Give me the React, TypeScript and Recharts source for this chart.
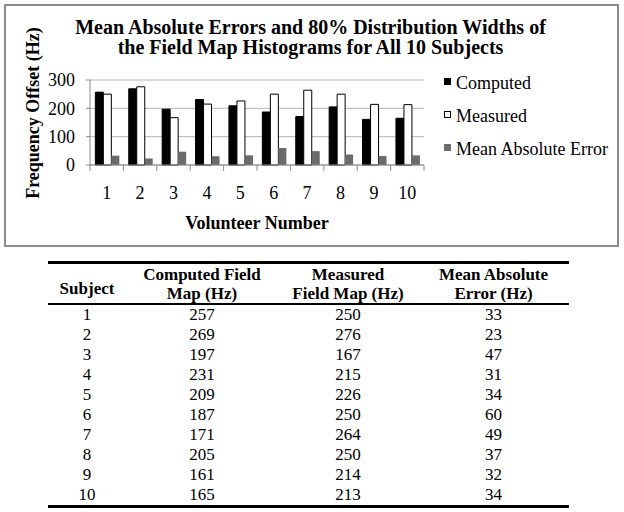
import React from 'react';
import { Bar, BarChart, CartesianGrid, Label, Legend, XAxis, YAxis } from 'recharts';

const subjects = ['1', '2', '3', '4', '5', '6', '7', '8', '9', '10'];
const computed = [257, 269, 197, 231, 209, 187, 171, 205, 161, 165];
const measured = [250, 276, 167, 215, 226, 250, 264, 250, 214, 213];
const meanAbsError = [33, 23, 47, 31, 34, 60, 49, 37, 32, 34];
const yTicks = [0, 100, 200, 300];

const SERIF = '"Liberation Serif", "Times New Roman", serif';
const AXIS = '#8a8a8a';
const GRID = '#b4b4b4';
const X_TICK_GAP = 21;

const SERIES = [
  { key: 'computed', label: 'Computed', fill: '#000000', stroke: '#000000' },
  { key: 'measured', label: 'Measured', fill: '#ffffff', stroke: '#000000' },
  { key: 'mae', label: 'Mean Absolute Error', fill: '#6b6b6b', stroke: 'none' },
];

const chartData = subjects.map((s, i) => ({
  subject: s,
  computed: computed[i],
  measured: measured[i],
  mae: meanAbsError[i],
}));

// Excel-style ticks: sit on category boundaries, not centres
const XTick = (props: any) => {
  const { x, y, payload } = props;
  const half = payload?.offset ?? 0;
  const axisY = y - X_TICK_GAP;
  const isLast = payload?.value === subjects[subjects.length - 1];
  return (
    <g>
      <line x1={x - half} x2={x - half} y1={axisY} y2={axisY + 6} stroke={AXIS} />
      {isLast && <line x1={x + half} x2={x + half} y1={axisY} y2={axisY + 6} stroke={AXIS} />}
      <text x={x} y={y} dy={13} textAnchor="middle" fontFamily={SERIF} fontSize={18} fill="#000">
        {payload.value}
      </text>
    </g>
  );
};

const YTitle = ({ viewBox }: any) => {
  const cx = viewBox.x + 3;
  const cy = viewBox.y + viewBox.height / 2 - 9.5;
  return (
    <text
      x={cx}
      y={cy}
      transform={`rotate(-90 ${cx} ${cy})`}
      textAnchor="middle"
      dominantBaseline="central"
      fontFamily={SERIF}
      fontSize={18}
      fontWeight="bold"
      fill="#000"
    >
      Frequency Offset (Hz)
    </text>
  );
};

const XTitle = ({ viewBox }: any) => (
  <text
    x={viewBox.x + viewBox.width / 2}
    y={viewBox.y + 64}
    textAnchor="middle"
    fontFamily={SERIF}
    fontSize={18}
    fontWeight="bold"
    fill="#000"
  >
    Volunteer Number
  </text>
);

const renderLegend = () => (
  <div style={{ fontFamily: SERIF, fontSize: 18, color: '#000' }}>
    {SERIES.map((s) => (
      <div key={s.key} style={{ height: 33, display: 'flex', alignItems: 'center' }}>
        <span
          style={{
            width: 7,
            height: 7,
            background: s.fill,
            border: s.key === 'measured' ? '1px solid #000' : 'none',
            boxSizing: 'border-box',
            marginRight: 5,
            marginTop: -4,
          }}
        />
        <span>{s.label}</span>
      </div>
    ))}
  </div>
);

const COLS = [
  { head: ['Subject'], width: 78 },
  { head: ['Computed Field', 'Map (Hz)'], width: 152 },
  { head: ['Measured', 'Field Map (Hz)'], width: 140 },
  { head: ['Mean Absolute', 'Error (Hz)'], width: 151 },
];

export default function App() {
  const rows = subjects.map((s, i) => [s, computed[i], measured[i], meanAbsError[i]]);
  return (
    <div style={{ position: 'absolute', left: 0, top: 0, width: 624, height: 512, background: '#fff' }}>
      <div
        style={{
          position: 'absolute',
          left: 4,
          top: 4,
          width: 615,
          height: 243,
          border: '2px solid #8c8c8c',
          boxSizing: 'border-box',
        }}
      />
      <div
        style={{
          position: 'absolute',
          left: 0,
          top: 16.5,
          width: 621,
          textAlign: 'center',
          fontFamily: SERIF,
          fontSize: 20,
          fontWeight: 'bold',
          lineHeight: '20px',
          color: '#000',
        }}
      >
        Mean Absolute Errors and 80% Distribution Widths of
        <br />
        the Field Map Histograms for All 10 Subjects
      </div>
      <div style={{ position: 'absolute', left: 0, top: 0 }}>
        <BarChart
          width={624}
          height={250}
          data={chartData}
          margin={{ top: 80, right: 20, bottom: 15, left: 30 }}
          barCategoryGap="16%"
          barGap={0}
        >
          <CartesianGrid vertical={false} stroke={GRID} />
          <XAxis
            dataKey="subject"
            interval={0}
            height={70}
            tickSize={0}
            tickLine={false}
            tickMargin={X_TICK_GAP}
            tick={<XTick />}
            axisLine={{ stroke: AXIS }}
          >
            <Label content={<XTitle />} />
          </XAxis>
          <YAxis
            width={60}
            domain={[0, 300]}
            ticks={yTicks}
            tickSize={4}
            tickMargin={11}
            tickLine={{ stroke: AXIS }}
            axisLine={{ stroke: AXIS }}
            tick={{ fontFamily: SERIF, fontSize: 18, fill: '#000' }}
          >
            <Label content={<YTitle />} />
          </YAxis>
          <Legend
            layout="vertical"
            align="right"
            verticalAlign="top"
            content={renderLegend}
            wrapperStyle={{ left: 444, top: 67, width: 180 }}
          />
          {SERIES.map((s) => (
            <Bar
              key={s.key}
              dataKey={s.key}
              name={s.label}
              fill={s.fill}
              stroke={s.stroke}
              strokeWidth={1}
              isAnimationActive={false}
            />
          ))}
        </BarChart>
      </div>
      <div
        style={{
          position: 'absolute',
          left: 48,
          top: 261,
          width: 521,
          fontFamily: SERIF,
          fontSize: 17,
          color: '#000',
        }}
      >
        <div
          style={{
            display: 'flex',
            height: 39,
            borderTop: '3px solid #000',
            borderBottom: '2px solid #000',
            fontWeight: 'bold',
            lineHeight: '19px',
          }}
        >
          {COLS.map((c, ci) => (
            <div
              key={ci}
              style={{
                width: c.width,
                textAlign: 'center',
                display: 'flex',
                flexDirection: 'column',
                justifyContent: 'flex-end',
                paddingBottom: c.head.length === 1 ? 5 : 0,
                boxSizing: 'border-box',
              }}
            >
              {c.head.map((h) => (
                <div key={h}>{h}</div>
              ))}
            </div>
          ))}
        </div>
        <div style={{ borderBottom: '3px solid #000' }}>
          {rows.map((r, ri) => (
            <div key={ri} style={{ display: 'flex', height: 20, lineHeight: '20px' }}>
              {r.map((v, ci) => (
                <div key={ci} style={{ width: COLS[ci].width, textAlign: 'center' }}>
                  {v}
                </div>
              ))}
            </div>
          ))}
        </div>
      </div>
    </div>
  );
}
